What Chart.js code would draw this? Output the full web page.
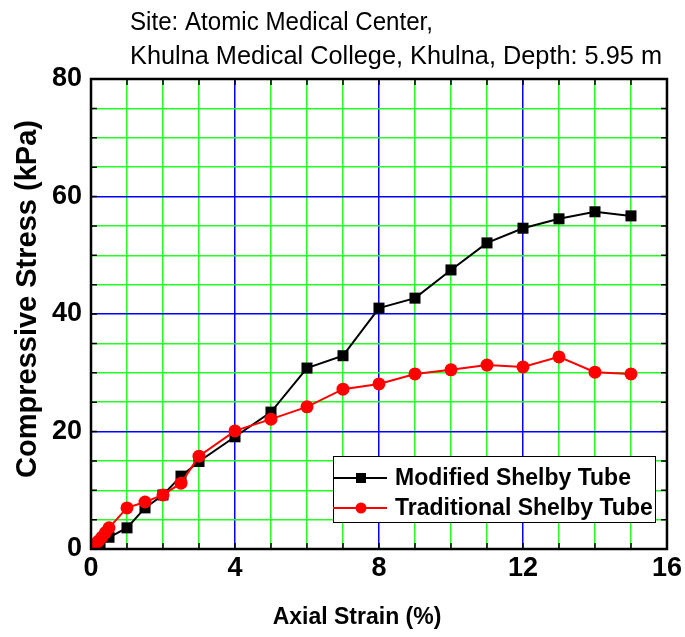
<!DOCTYPE html>
<html>
<head>
<meta charset="utf-8">
<script src="https://cdn.jsdelivr.net/npm/chart.js@4"></script>
<style>
  html, body { margin: 0; padding: 0; background: #fff; }
  #wrap { width: 685px; height: 637px; }
</style>
</head>
<body>
<div id="wrap"><canvas id="stressChart" width="685" height="637"></canvas></div>
<script>
    // Ensayo de compresión no confinada
    const modStrain = [0, 0.25, 0.5, 1, 1.5, 2, 2.5, 3, 4, 5, 6, 7, 8, 9, 10, 11, 12, 13, 14, 15];
    const modStress = [0, 1.0, 2.0, 3.6, 7.0, 9.2, 12.4, 14.9, 19.1, 23.3, 30.8, 32.9, 41.0, 42.7, 47.5, 52.1, 54.6, 56.2, 57.4, 56.7];

    const tradStrain = [0, 0.1, 0.2, 0.3, 0.4, 0.5, 1, 1.5, 2, 2.5, 3, 4, 5, 6, 7, 8, 9, 10, 11, 12, 13, 14, 15];
    const tradStress = [0.3, 0.8, 1.3, 2.0, 2.8, 3.6, 7.0, 8.0, 9.2, 11.2, 15.8, 20.1, 22.1, 24.2, 27.2, 28.1, 29.8, 30.5, 31.3, 31.0, 32.7, 30.1, 29.8];

    const seriesNames = ['Modified Shelby Tube', 'Traditional Shelby Tube'];
    const titleLines = ['Site: Atomic Medical Center,', 'Khulna Medical College, Khulna, Depth: 5.95 m'];
    const xTitle = 'Axial Strain (%)';
    const yTitle = 'Compressive Stress (kPa)';

    const FONT = 'Arial, "Liberation Sans", sans-serif';
    const GREEN = '#22ff22';
    const BLUE = '#0000ff';

    function toPoints(xs, ys) {
        return xs.map((x, i) => ({ x: x, y: ys[i] }));
    }

    // Textos: sitio arriba y títulos de los ejes
    const chartTexts = {
        id: 'chartTexts',
        afterDraw(chart) {
            const ctx = chart.ctx;
            ctx.save();
            ctx.fillStyle = '#000';
            ctx.font = '26px ' + FONT;
            ctx.textAlign = 'left';
            ctx.textBaseline = 'alphabetic';
            ctx.fillText(titleLines[0], 130, 30, 303);
            ctx.fillText(titleLines[1], 130, 64, 532);

            ctx.textAlign = 'center';
            ctx.textBaseline = 'middle';
            ctx.font = 'bold 23px ' + FONT;
            ctx.fillText(xTitle, 357, 618);

            ctx.translate(28, 299);
            ctx.rotate(-Math.PI / 2);
            ctx.font = 'bold 29px ' + FONT;
            ctx.fillText(yTitle, 0, 0);
            ctx.restore();
        }
    };

    // Marco completo y marcas hacia adentro en los cuatro lados
    const frameTicks = {
        id: 'frameTicks',
        afterDatasetsDraw(chart) {
            const ctx = chart.ctx;
            const a = chart.chartArea;
            const xs = chart.scales.x;
            const ys = chart.scales.y;
            const len = 6;
            ctx.save();
            ctx.strokeStyle = '#000';
            ctx.lineWidth = 1.5;
            ctx.beginPath();
            xs.ticks.forEach(t => {
                const px = xs.getPixelForValue(t.value);
                ctx.moveTo(px, a.bottom); ctx.lineTo(px, a.bottom - len);
                ctx.moveTo(px, a.top); ctx.lineTo(px, a.top + len);
            });
            ys.ticks.forEach(t => {
                const py = ys.getPixelForValue(t.value);
                ctx.moveTo(a.left, py); ctx.lineTo(a.left + len, py);
                ctx.moveTo(a.right, py); ctx.lineTo(a.right - len, py);
            });
            ctx.stroke();
            ctx.lineWidth = 2.5;
            ctx.strokeRect(a.left, a.top, a.right - a.left, a.bottom - a.top);
            ctx.restore();
        }
    };

    // Leyenda dentro del área de trazado
    const boxLegend = {
        id: 'boxLegend',
        afterDraw(chart) {
            const ctx = chart.ctx;
            const bx = 333, by = 456, bw = 322, bh = 66;
            ctx.save();
            ctx.fillStyle = '#fff';
            ctx.fillRect(bx, by, bw, bh);
            ctx.strokeStyle = '#000';
            ctx.lineWidth = 1;
            ctx.strokeRect(bx + 0.5, by + 0.5, bw, bh);
            const rows = [478, 508];
            chart.data.datasets.forEach((ds, i) => {
                const y = rows[i];
                ctx.strokeStyle = ds.borderColor;
                ctx.lineWidth = 2;
                ctx.beginPath();
                ctx.moveTo(bx, y);
                ctx.lineTo(bx + 54, y);
                ctx.stroke();
                ctx.fillStyle = ds.backgroundColor;
                if (ds.pointStyle === 'rect') {
                    ctx.fillRect(bx + 28 - 5, y - 5, 10, 10);
                } else {
                    ctx.beginPath();
                    ctx.arc(bx + 28, y, 5.5, 0, Math.PI * 2);
                    ctx.fill();
                }
                ctx.fillStyle = '#000';
                ctx.font = 'bold 23px ' + FONT;
                ctx.textBaseline = 'middle';
                ctx.textAlign = 'left';
                ctx.fillText(ds.label, bx + 62, y + 1);
            });
            ctx.restore();
        }
    };

    const ctx = document.getElementById('stressChart').getContext('2d');
    new Chart(ctx, {
        type: 'scatter',
        data: {
            datasets: [{
                label: seriesNames[0],
                data: toPoints(modStrain, modStress),
                showLine: true,
                borderColor: '#000',
                backgroundColor: '#000',
                borderWidth: 2,
                pointStyle: 'rect',
                pointRadius: 7.8,
                pointBorderWidth: 0,
                order: 1
            },
            {
                label: seriesNames[1],
                data: toPoints(tradStrain, tradStress),
                showLine: true,
                borderColor: '#ff0000',
                backgroundColor: '#ff0000',
                borderWidth: 2,
                pointStyle: 'circle',
                pointRadius: 6.5,
                pointBorderWidth: 0,
                order: 0
            }]
        },
        options: {
            responsive: false,
            animation: false,
            layout: { padding: { left: 0, top: 79, right: 18, bottom: 0 } },
            plugins: {
                legend: { display: false },
                tooltip: { enabled: false }
            },
            scales: {
                x: {
                    type: 'linear',
                    min: 0,
                    max: 16,
                    afterFit: s => { s.height = 88; },
                    border: { display: false },
                    grid: {
                        drawTicks: false,
                        tickLength: 0,
                        lineWidth: 1.5,
                        color: c => (c.tick.value % 4 === 0 ? BLUE : GREEN)
                    },
                    ticks: {
                        stepSize: 1,
                        autoSkip: false,
                        maxRotation: 0,
                        padding: 3,
                        color: '#000',
                        font: { family: FONT, size: 27, weight: 'bold' },
                        callback: v => (v % 4 === 0 ? v : '')
                    }
                },
                y: {
                    type: 'linear',
                    min: 0,
                    max: 80,
                    afterFit: s => { s.width = 91; },
                    border: { display: false },
                    grid: {
                        drawTicks: false,
                        tickLength: 0,
                        lineWidth: 1.5,
                        color: c => (c.tick.value % 20 === 0 ? BLUE : GREEN)
                    },
                    ticks: {
                        stepSize: 5,
                        autoSkip: false,
                        padding: 9,
                        color: '#000',
                        font: { family: FONT, size: 27, weight: 'bold' },
                        callback: v => (v % 20 === 0 ? v : '')
                    }
                }
            }
        },
        plugins: [frameTicks, chartTexts, boxLegend]
    });
</script>
</body>
</html>
